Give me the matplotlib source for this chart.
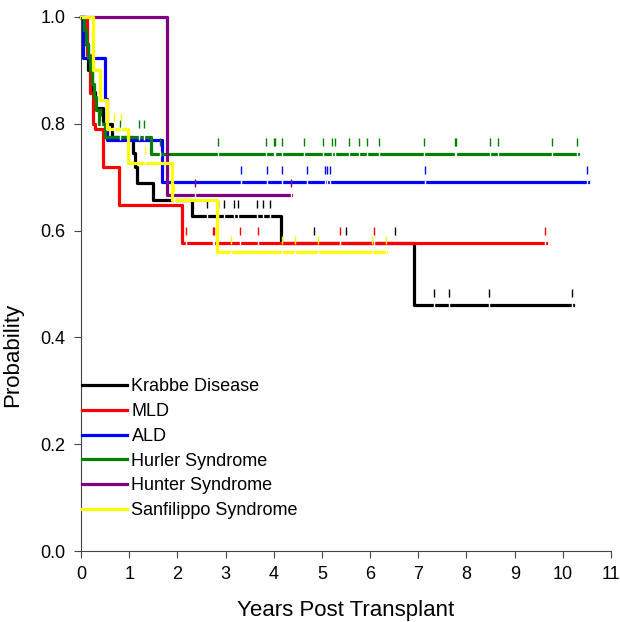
import numpy as np
import matplotlib
matplotlib.use('Agg')
import matplotlib.pyplot as plt

plt.rcParams['font.family'] = ['Liberation Sans', 'DejaVu Sans']

labels = ['Krabbe Disease', 'MLD', 'ALD', 'Hurler Syndrome', 'Hunter Syndrome', 'Sanfilippo Syndrome']
colors = ['#000000', '#ff0000', '#0000ff', '#008000', '#800080', '#ffff00']

# step start times and survival values
krabbe_t = [0, 0.08, 0.15, 0.22, 0.30, 0.45, 0.64, 1.07, 1.12, 1.17, 1.49, 2.31, 4.15, 6.92]
krabbe_s = [1.0, 0.95, 0.90, 0.86, 0.83, 0.80, 0.775, 0.745, 0.72, 0.689, 0.657, 0.627, 0.577, 0.46]
krabbe_end = 10.20
krabbe_cens = [2.62, 2.85, 2.96, 3.18, 3.25, 3.65, 3.78, 3.92, 4.83, 5.50, 6.52, 7.33, 7.64, 8.46, 10.19]

mld_t = [0, 0.12, 0.18, 0.24, 0.30, 0.45, 0.79, 2.09]
mld_s = [1.0, 0.929, 0.857, 0.80, 0.79, 0.72, 0.648, 0.577]
mld_end = 9.65
mld_cens = [2.18, 2.73, 2.77, 3.29, 3.68, 5.37, 6.09, 9.63]

ald_t = [0, 0.04, 0.50, 0.55, 1.68]
ald_s = [1.0, 0.923, 0.846, 0.769, 0.691]
ald_end = 10.52
ald_cens = [3.32, 3.87, 4.17, 4.70, 5.06, 5.11, 5.17, 7.13, 10.50]

hurler_t = [0, 0.06, 0.10, 0.14, 0.18, 0.22, 0.27, 0.32, 0.37, 0.50, 1.45]
hurler_s = [1.0, 0.975, 0.95, 0.925, 0.90, 0.875, 0.85, 0.825, 0.80, 0.776, 0.743]
hurler_end = 10.31
hurler_cens = [0.41, 0.80, 1.20, 1.30, 1.63, 2.85, 3.84, 4.01, 4.03, 4.17, 4.63, 5.02, 5.21, 5.27,
               5.56, 5.76, 5.93, 6.18, 7.12, 7.76, 7.78, 8.49, 8.66, 9.77, 10.29]

hunter_t = [0, 1.78]
hunter_s = [1.0, 0.667]
hunter_end = 4.36
hunter_cens = [2.36, 4.35]

sanf_t = [0, 0.25, 0.40, 0.54, 0.97, 1.88, 2.83]
sanf_s = [1.0, 0.90, 0.845, 0.79, 0.727, 0.657, 0.56]
sanf_end = 6.33
sanf_cens = [0.68, 0.84, 1.32, 1.94, 3.11, 4.18, 4.44, 4.92, 6.04, 6.32]

series = [
    (krabbe_t, krabbe_s, krabbe_end, krabbe_cens),
    (mld_t, mld_s, mld_end, mld_cens),
    (ald_t, ald_s, ald_end, ald_cens),
    (hurler_t, hurler_s, hurler_end, hurler_cens),
    (hunter_t, hunter_s, hunter_end, hunter_cens),
    (sanf_t, sanf_s, sanf_end, sanf_cens),
]

fig = plt.figure(figsize=(6.2, 6.22), dpi=100)
ax = fig.add_axes([0.1306, 0.1141, 0.855, 0.8586])

for (t, s, end, cens), lab, col in zip(series, labels, colors):
    x = list(t) + [end]
    y = list(s) + [s[-1]]
    ax.plot(x, y, drawstyle='steps-post', color=col, lw=2.3, label=lab, clip_on=False)
    lev = np.array(s)[np.searchsorted(t, cens, side='right') - 1]
    # small white breaks in the line, ticks just above
    ax.plot(cens, lev, ls='none', marker='|', ms=4, mew=1.0, color='white', clip_on=False)
    ax.plot(cens, lev + 0.023, ls='none', marker='|', ms=6, mew=1.0, color=col, clip_on=False)

ax.set_xlim(0, 11)
ax.set_ylim(0, 1.0)
ax.set_xticks(range(0, 12))
ax.set_yticks(np.arange(0, 1.01, 0.2))
ax.set_yticklabels(['%.1f' % v for v in np.arange(0, 1.01, 0.2)])
ax.tick_params(labelsize=13, length=5, color='#444444', pad=6)
for sp in ['top', 'right']:
    ax.spines[sp].set_visible(False)
for sp in ['left', 'bottom']:
    ax.spines[sp].set_color('#444444')

ax.set_xlabel('Years Post Transplant', fontsize=16, labelpad=12)
ax.set_ylabel('Probability', fontsize=16)
ax.yaxis.set_label_coords(-0.11, 0.367)

ax.legend(loc='lower left', bbox_to_anchor=(-0.012, 0.046), frameon=False, fontsize=13,
          handlelength=2.5, handletextpad=0.25, labelspacing=0.43, borderaxespad=0)

fig.savefig('out.png', dpi=100)
